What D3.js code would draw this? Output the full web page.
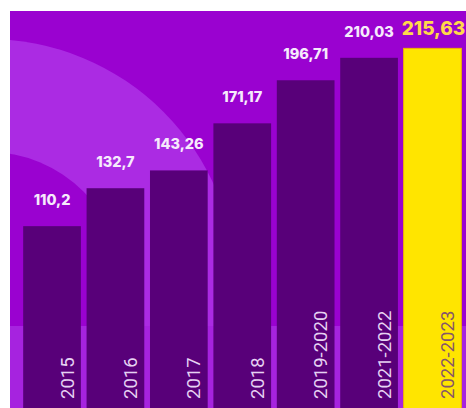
<!DOCTYPE html>
<html>
<head>
<meta charset="utf-8">
<script src="https://cdn.jsdelivr.net/npm/d3@7"></script>
<style>
  body { margin: 0; background: #ffffff; }
  svg { display: block; }
</style>
</head>
<body>
<div id="chart"></div>
<script>

var years = ["2015", "2016", "2017", "2018", "2019-2020", "2021-2022", "2022-2023"];
var values = [110.2, 132.7, 143.26, 171.17, 196.71, 210.03, 215.63];
var value_labels = ["110,2", "132,7", "143,26", "171,17", "196,71", "210,03", "215,63"];
var highlight = "2022-2023";

var width = 466,
  height = 408;

var svg = d3.select("#chart").append("svg")
  .attr("width", width)
  .attr("height", height);

//Purple panel, white strip on top and left
var panel = { x: 10, y: 11 };

svg.append("clipPath").attr("id", "panel_clip")
  .append("rect")
  .attr("x", panel.x)
  .attr("y", panel.y)
  .attr("width", width - panel.x)
  .attr("height", height - panel.y);

var bg = svg.append("g").attr("clip-path", "url(#panel_clip)");

bg.append("rect")
  .attr("x", panel.x)
  .attr("y", panel.y)
  .attr("width", width - panel.x)
  .attr("height", height - panel.y)
  .style("fill", "#9a02d0");

//Decorative ring from the bottom left
bg.append("circle")
  .attr("cx", -12)
  .attr("cy", 287)
  .attr("r", 248)
  .style("fill", "#ab2be3");

bg.append("circle")
  .attr("cx", -12)
  .attr("cy", 287)
  .attr("r", 135)
  .style("fill", "#9a02d0");

//Lighter band at the foot
bg.append("rect")
  .attr("x", panel.x)
  .attr("y", 326)
  .attr("width", width - panel.x)
  .attr("height", height - 326)
  .style("fill", "#a623df");

var x = d3.scaleBand()
  .domain(years)
  .range([20, 464.5])
  .paddingInner(0.09)
  .paddingOuter(0.05);

var y = d3.scaleLinear()
  .domain([0, 220])
  .range([412, 41]);

var data = years.map(function(d, i) {
  return { year: d, value: values[i], label: value_labels[i] };
});

var chart_area = svg.append("g").attr("clip-path", "url(#panel_clip)");

chart_area.selectAll(".bar")
  .data(data)
  .enter().append("rect")
  .attr("class", "bar")
  .attr("x", function(d) { return x(d.year); })
  .attr("y", function(d) { return y(d.value); })
  .attr("width", x.bandwidth())
  .attr("height", function(d) { return y(0) - y(d.value); })
  .style("fill", function(d) { return d.year === highlight ? "#ffe500" : "#580079"; })
  .style("stroke", function(d) { return d.year === highlight ? "#f2b400" : "none"; })
  .style("stroke-width", 1);

//Values above the bars
chart_area.selectAll(".value")
  .data(data)
  .enter().append("text")
  .attr("class", "value")
  .attr("x", function(d) { return x(d.year) + x.bandwidth() / 2 + (d.year === highlight ? 1 : 0); })
  .attr("y", function(d) { return d.year === highlight ? y(d.value) - 13 : y(d.value) - 21; })
  .style("text-anchor", "middle")
  .style("font-family", "Inter, 'Open Sans', sans-serif")
  .style("font-weight", 800)
  .style("font-size", function(d) { return d.year === highlight ? "19px" : "14.5px"; })
  .style("fill", function(d) { return d.year === highlight ? "#ffd84a" : "#f6eafc"; })
  .text(function(d) { return d.label; });

//Rotated year labels inside the bars
chart_area.selectAll(".year")
  .data(data)
  .enter().append("text")
  .attr("class", "year")
  .attr("transform", function(d) {
    return "translate(" + (x(d.year) + x.bandwidth() / 2 + 21.5) + ",399) rotate(-90)";
  })
  .style("text-anchor", "start")
  .style("font-family", "Roboto, sans-serif")
  .style("font-size", "18.5px")
  .style("fill", function(d) { return d.year === highlight ? "#86566a" : "#e6d2f3"; })
  .text(function(d) { return d.year; });

</script>
</body>
</html>
